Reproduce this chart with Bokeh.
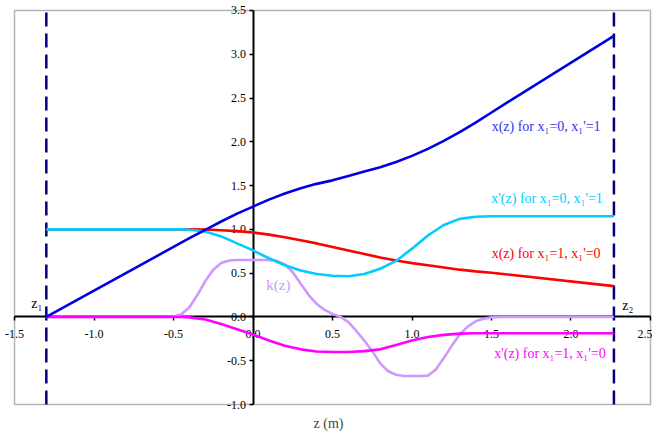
from bokeh.plotting import figure
from bokeh.models import LinearAxis, FixedTicker, NumeralTickFormatter, Range1d
from bokeh.core.properties import value
from bokeh.embed import file_html
from bokeh.resources import INLINE

# ---- data ----
z_min, z_max = -1.5, 2.5        # axis extents
v_min, v_max = -1.0, 3.5
z1 = -1.3
z2 = 2.27
x_ticks = [-1.5, -1.0, -0.5, 0.0, 0.5, 1.0, 1.5, 2.0, 2.5]
y_ticks = [-1.0, -0.5, 0.0, 0.5, 1.0, 1.5, 2.0, 2.5, 3.0, 3.5]

# x(z) for x1=0, x1'=1
z_a = [-1.3, -0.5, -0.4, -0.3, -0.2, -0.1, 0.0, 0.1, 0.2, 0.3, 0.4, 0.5, 0.6, 0.7,
       0.8, 0.9, 1.0, 1.1, 1.2, 1.3, 1.4, 1.5, 1.6, 2.27]
x_a = [0.0, 0.80, 0.90, 0.995, 1.09, 1.18, 1.26, 1.34, 1.41, 1.47, 1.52, 1.56, 1.61, 1.66,
       1.71, 1.77, 1.84, 1.92, 2.01, 2.11, 2.22, 2.335, 2.45, 3.21]

# x'(z) for x1=0, x1'=1
z_b = [-1.3, -0.45, -0.4, -0.3, -0.2, -0.1, 0.0, 0.1, 0.2, 0.3, 0.4, 0.5, 0.6, 0.7,
       0.8, 0.9, 1.0, 1.1, 1.2, 1.3, 1.4, 1.5, 2.27]
xp_b = [1.0, 1.0, 0.995, 0.975, 0.92, 0.84, 0.76, 0.67, 0.59, 0.53, 0.49, 0.47, 0.465, 0.49,
        0.55, 0.64, 0.78, 0.93, 1.05, 1.12, 1.145, 1.15, 1.15]

# x(z) for x1=1, x1'=0
z_c = [-1.3, -0.4, -0.3, -0.2, -0.1, 0.0, 0.1, 0.2, 0.3, 0.4, 0.5, 0.6, 0.7, 0.8,
       0.9, 1.0, 1.1, 1.2, 1.3, 1.4, 1.5, 2.27]
x_c = [1.0, 1.0, 0.998, 0.99, 0.98, 0.965, 0.94, 0.91, 0.875, 0.84, 0.80, 0.76, 0.72, 0.68,
       0.645, 0.615, 0.59, 0.565, 0.54, 0.52, 0.505, 0.352]

# x'(z) for x1=1, x1'=0
z_d = [-1.3, -0.45, -0.4, -0.3, -0.2, -0.1, 0.0, 0.1, 0.2, 0.3, 0.4, 0.5, 0.6, 0.7,
       0.8, 0.9, 1.0, 1.1, 1.2, 1.3, 1.4, 2.27]
xp_d = [0.0, 0.0, -0.005, -0.03, -0.08, -0.14, -0.20, -0.27, -0.33, -0.37, -0.395, -0.40, -0.40, -0.39,
        -0.37, -0.32, -0.27, -0.23, -0.205, -0.19, -0.187, -0.187]

# k(z)
z_k = [-1.3, -0.55, -0.5, -0.45, -0.4, -0.35, -0.3, -0.25, -0.2, -0.15, -0.1, 0.1, 0.15, 0.2,
       0.25, 0.3, 0.35, 0.4, 0.45, 0.5, 0.55, 0.6, 0.65, 0.7, 0.75, 0.8, 0.85, 0.9, 0.95,
       1.05, 1.1, 1.15, 1.2, 1.25, 1.3, 1.35, 1.4, 1.45, 1.5, 1.55, 2.27]
k_k = [0.0, 0.0, 0.005, 0.03, 0.11, 0.25, 0.41, 0.54, 0.615, 0.645, 0.65, 0.65, 0.64, 0.60,
       0.51, 0.38, 0.25, 0.15, 0.08, 0.035, 0.0, -0.06, -0.16, -0.27, -0.39, -0.53, -0.62, -0.66, -0.675,
       -0.675, -0.67, -0.60, -0.47, -0.33, -0.20, -0.11, -0.05, -0.02, -0.005, 0.0, 0.0]

label_texts = ["x(z) for x\u2081=0, x\u2081'=1", "x'(z) for x\u2081=0, x\u2081'=1",
               "x(z) for x\u2081=1, x\u2081'=0", "x'(z) for x\u2081=1, x\u2081'=0", "k(z)"]

# ---- styles ----
C_A = "#0000E6"
C_B = "#00CCFF"
C_C = "#FF0000"
C_D = "#FF00FF"
C_K = "#CC99FF"
FONT = "Liberation Serif"

PX_X = 158.5   # pixels per unit along z
PX_Y = 87.56   # pixels per unit along y
pad_l, pad_r, pad_t, pad_b = 10, 2, 6, 6

p = figure(width=652, height=434,
           x_range=Range1d(z_min - pad_l / PX_X, z_max + pad_r / PX_X),
           y_range=Range1d(v_min - pad_b / PX_Y, v_max + pad_t / PX_Y),
           output_backend="svg", toolbar_location=None,
           x_axis_location=None, y_axis_location=None,
           min_border_left=4, min_border_right=0, min_border_top=4, min_border_bottom=24)
p.grid.grid_line_color = None
p.outline_line_color = None
p.background_fill_color = "white"
p.border_fill_color = "white"

# grey plot-area box
p.quad(left=[z_min], right=[z_max], bottom=[v_min], top=[v_max], fill_color=None,
       line_color="#b4b4b4", line_width=1.5, level="underlay")

def style_axis(ax, standoff):
    ax.axis_line_color = "black"
    ax.axis_line_width = 2
    ax.major_tick_line_color = "black"
    ax.major_tick_line_width = 1.5
    ax.major_tick_in = 0
    ax.major_tick_out = 4
    ax.minor_tick_line_color = None
    ax.major_label_standoff = standoff
    ax.major_label_text_font = FONT
    ax.major_label_text_font_size = "12px"
    ax.major_label_text_color = "black"
    ax.level = "underlay"

fmt = NumeralTickFormatter(format="0.0")

xa = LinearAxis(fixed_location=0, ticker=FixedTicker(ticks=x_ticks), formatter=fmt,
                bounds=(z_min, z_max))
style_axis(xa, 9)
p.add_layout(xa, "below")

ya = LinearAxis(fixed_location=0, ticker=FixedTicker(ticks=y_ticks), formatter=fmt,
                bounds=(v_min, v_max))
style_axis(ya, 3)
p.add_layout(ya, "left")

xl = LinearAxis(ticker=FixedTicker(ticks=[]), axis_label="z (m)")
xl.axis_line_color = None
xl.major_tick_line_color = None
xl.minor_tick_line_color = None
xl.axis_label_text_font = FONT
xl.axis_label_text_font_size = "14px"
xl.axis_label_text_font_style = "normal"
xl.axis_label_standoff = 5
p.add_layout(xl, "below")

for loc in (z1, z2):
    p.line(x=[loc, loc], y=[v_min, v_max], line_color="#000080",
           line_width=2.5, line_dash="14 7")

lw = 2.6
p.line(z_k, k_k, line_color=C_K, line_width=lw)
p.line(z_d, xp_d, line_color=C_D, line_width=lw)
p.line(z_c, x_c, line_color=C_C, line_width=lw)
p.line(z_b, xp_b, line_color=C_B, line_width=lw)
p.line(z_a, x_a, line_color=C_A, line_width=lw)

lab_x = [2.186, 2.2, 2.186, 2.218]
lab_y = [2.17, 1.35, 0.72, -0.42]
lab_c = ["#3333EE", C_B, C_C, C_D]
for t, xx, yy, c in zip(label_texts[:4], lab_x, lab_y, lab_c):
    p.text(x=[xx], y=[yy], text=[t], text_color=c, text_font=value(FONT),
           text_font_size="14px", text_align="right", text_baseline="middle")
p.text(x=[0.084], y=[0.36], text=[label_texts[4]], text_color=C_K, text_font=value(FONT),
       text_font_size="15px", text_align="left", text_baseline="middle")

p.text(x=[-1.325], y=[0.15], text=["z\u2081"], text_color="black", text_font=value(FONT),
       text_font_size="14px", text_align="right", text_baseline="middle")
p.text(x=[2.323], y=[0.13], text=["z\u2082"], text_color="black", text_font=value(FONT),
       text_font_size="14px", text_align="left", text_baseline="middle")

open("out.html", "w").write(file_html(p, INLINE))
